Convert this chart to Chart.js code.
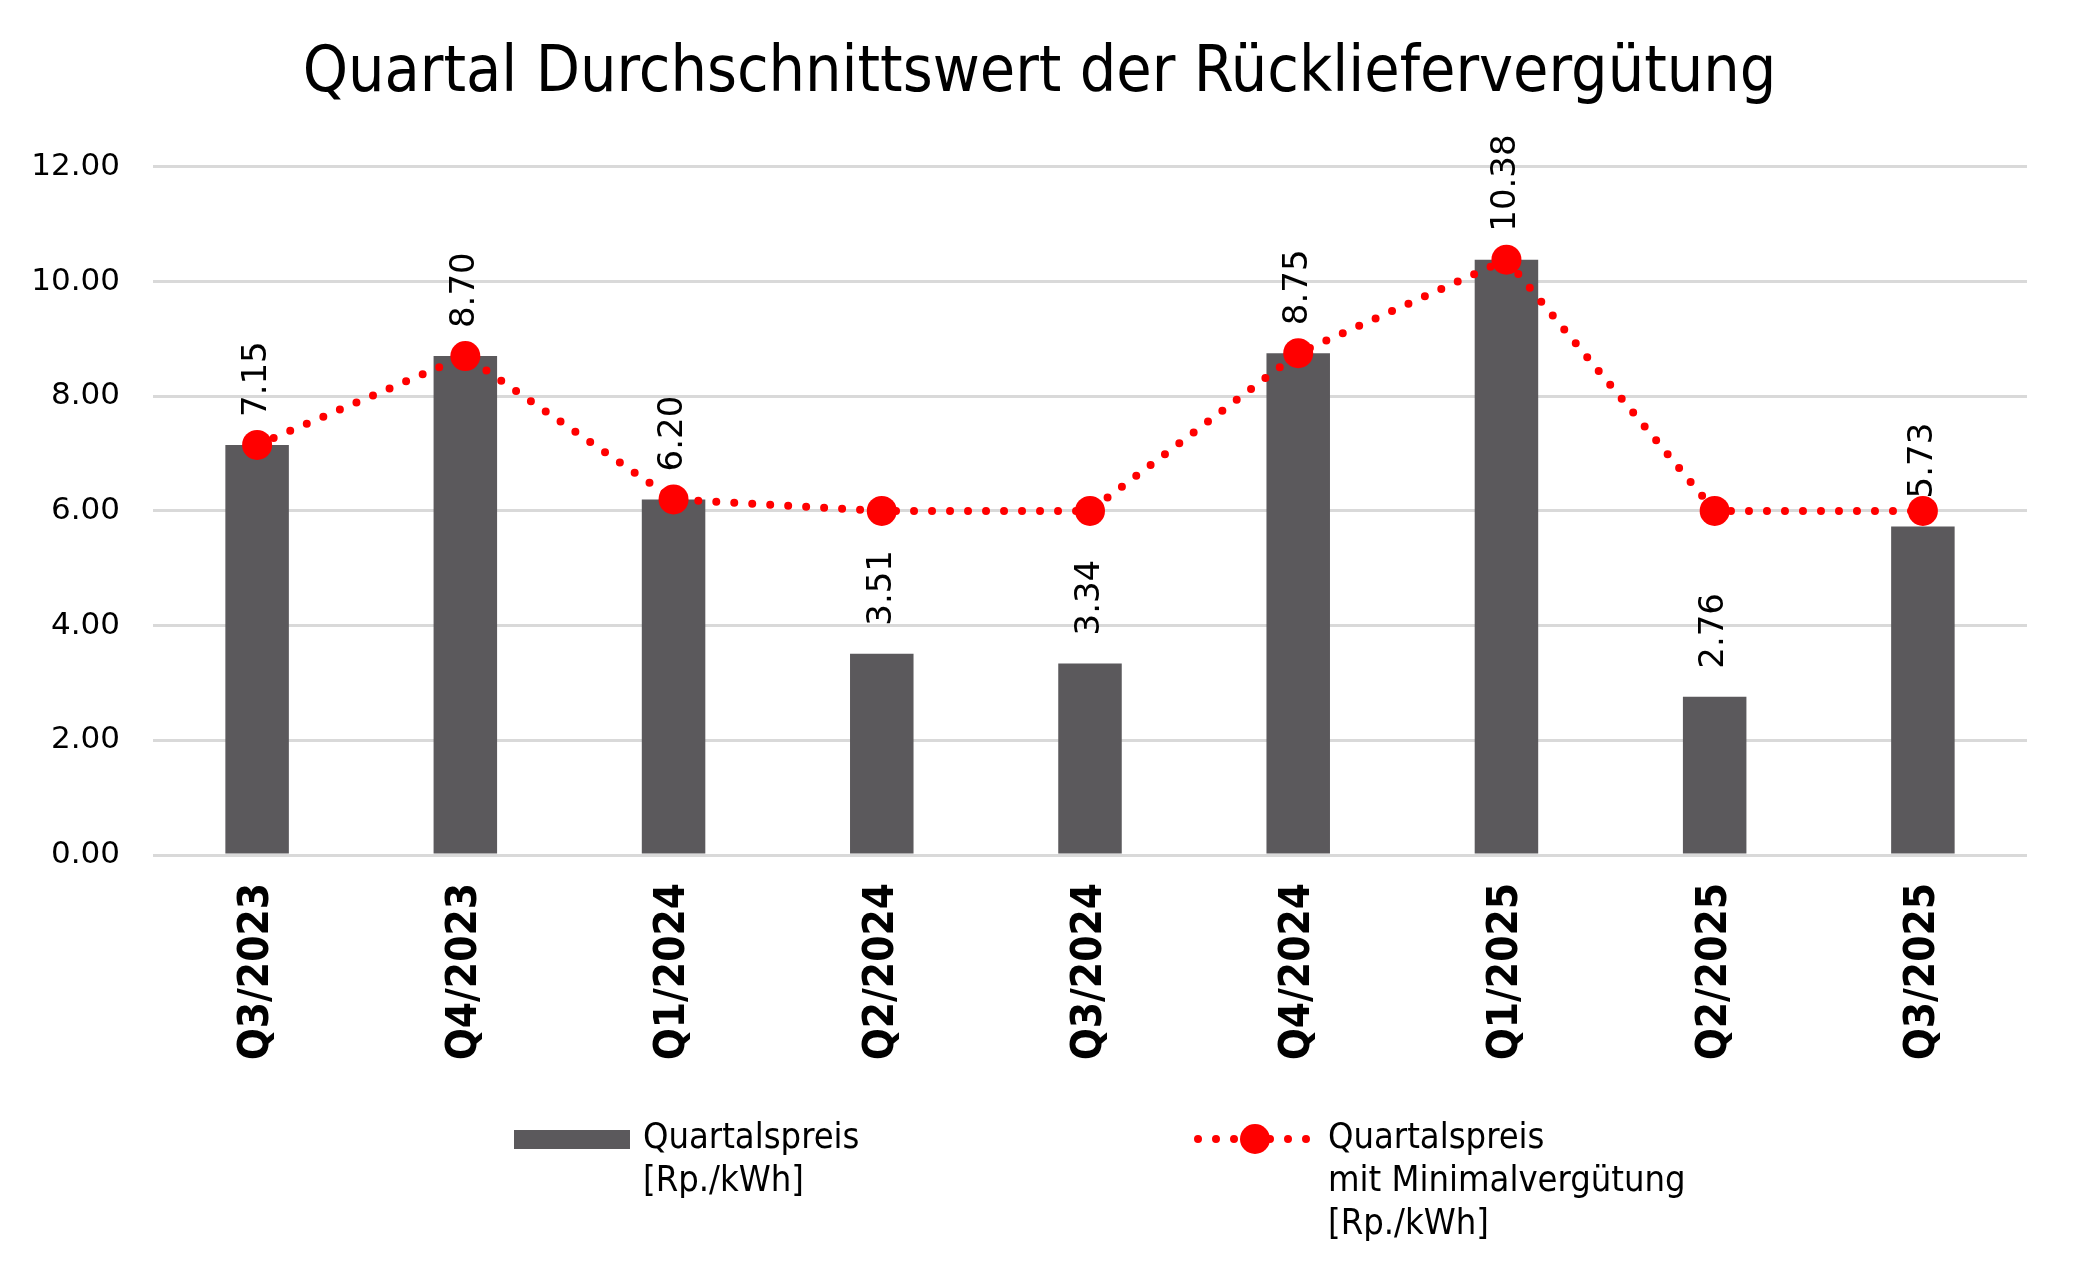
<!DOCTYPE html>
<html lang="de">
<head>
    <meta charset="UTF-8">
    <title>Quartal Durchschnittswert der Rückliefervergütung</title>
    <script src="https://cdn.jsdelivr.net/npm/chart.js"></script>
    <style>
        body {
            margin: 0;
            padding: 0;
            background: #fff;
        }
        .wrap {
            position: relative;
            width: 2079px;
            height: 1278px;
        }
        .legend {
            position: absolute;
            font-family: "Liberation Sans Narrow", "DejaVu Sans Condensed", sans-serif;
            font-size: 36px;
            line-height: 43px;
            color: #000;
        }
        .legend .txt {
            position: absolute;
            white-space: nowrap;
        }
    </style>
</head>
<body>
    <div class="wrap">
        <canvas id="chart" width="2079" height="1278"></canvas>
        <div class="legend" id="legend"></div>
    </div>

    <script>
        // data
        const quarters = ['Q3/2023', 'Q4/2023', 'Q1/2024', 'Q2/2024', 'Q3/2024', 'Q4/2024', 'Q1/2025', 'Q2/2025', 'Q3/2025'];
        const quarterPrice = [7.15, 8.70, 6.20, 3.51, 3.34, 8.75, 10.38, 2.76, 5.73];
        const priceWithMin = [7.15, 8.70, 6.20, 6.00, 6.00, 8.75, 10.38, 6.00, 6.00];
        const yTicks = [0, 2, 4, 6, 8, 10, 12];
        const barLabel = ['Quartalspreis', '[Rp./kWh]'];
        const lineLabel = ['Quartalspreis', 'mit Minimalvergütung', '[Rp./kWh]'];

        const barColor = '#5b595c';
        const lineColor = '#ff0000';

        // rotated value labels above the bars
        const valueLabels = {
            id: 'valueLabels',
            afterDatasetsDraw(chart) {
                const ctx = chart.ctx;
                const meta = chart.getDatasetMeta(0);
                ctx.save();
                ctx.font = '34px "DejaVu Sans"';
                ctx.fillStyle = '#000';
                ctx.textAlign = 'left';
                ctx.textBaseline = 'middle';
                meta.data.forEach((bar, i) => {
                    ctx.save();
                    ctx.translate(bar.x, bar.y - 28);
                    ctx.rotate(-Math.PI / 2);
                    ctx.fillText(quarterPrice[i].toFixed(2), 0, 0);
                    ctx.restore();
                });
                ctx.restore();
            }
        };

        const ctx = document.getElementById('chart').getContext('2d');
        const chart = new Chart(ctx, {
            type: 'bar',
            data: {
                labels: quarters,
                datasets: [
                    {
                        type: 'bar',
                        label: barLabel.join(' '),
                        data: quarterPrice,
                        backgroundColor: barColor,
                        barPercentage: 0.305,
                        categoryPercentage: 1,
                        order: 2
                    },
                    {
                        type: 'line',
                        label: lineLabel.join(' '),
                        data: priceWithMin,
                        borderColor: lineColor,
                        backgroundColor: lineColor,
                        borderWidth: 8,
                        borderDash: [0, 18],
                        borderCapStyle: 'round',
                        pointRadius: 15,
                        pointHoverRadius: 15,
                        pointBorderWidth: 0,
                        tension: 0,
                        fill: false,
                        order: 1
                    }
                ]
            },
            options: {
                responsive: false,
                animation: false,
                layout: { padding: 0 },
                plugins: {
                    legend: { display: false },
                    tooltip: { enabled: false },
                    title: {
                        display: true,
                        text: 'Quartal Durchschnittswert der Rückliefervergütung',
                        color: '#000',
                        font: { family: '"DejaVu Sans Condensed", sans-serif', size: 64, weight: 'normal' },
                        padding: { top: 36, bottom: 54 }
                    }
                },
                scales: {
                    x: {
                        grid: { display: false, drawTicks: false },
                        border: { display: false },
                        ticks: {
                            color: '#000',
                            minRotation: 90,
                            maxRotation: 90,
                            padding: 28,
                            font: { family: '"DejaVu Sans Condensed", "DejaVu Sans"', size: 42, weight: 'bold' }
                        },
                        afterFit: s => { s.height = 1278 - 855; }
                    },
                    y: {
                        min: 0,
                        max: 12,
                        afterBuildTicks: s => { s.ticks = yTicks.map(v => ({ value: v })); },
                        grid: { color: '#d9d9d9', lineWidth: 3, drawTicks: false },
                        border: { display: false },
                        ticks: {
                            color: '#000',
                            padding: 33,
                            font: { family: '"DejaVu Sans"', size: 31 },
                            callback: v => v.toFixed(2)
                        },
                        afterFit: s => { s.width = 153; }
                    },
                    // empty right margin so the title stays centred on the page
                    yRight: {
                        position: 'right',
                        grid: { display: false, drawTicks: false },
                        border: { display: false },
                        ticks: { display: false },
                        afterFit: s => { s.width = 52; }
                    }
                }
            },
            plugins: [valueLabels]
        });

        // legend with multi-line entries
        function buildLegend() {
            const lg = document.getElementById('legend');
            lg.style.left = '0px';
            lg.style.top = '0px';
            lg.innerHTML =
                '<div style="position:absolute;left:514px;top:1130px;width:116px;height:19px;background:' + barColor + '"></div>' +
                '<div class="txt" style="left:643px;top:1114px">' + barLabel.join('<br>') + '</div>' +
                '<svg style="position:absolute;left:1190px;top:1121px" width="135" height="36">' +
                '<line x1="8" y1="18" x2="130" y2="18" stroke="' + lineColor + '" stroke-width="8" stroke-linecap="round" stroke-dasharray="0 18"/>' +
                '<circle cx="65" cy="18" r="15" fill="' + lineColor + '"/></svg>' +
                '<div class="txt" style="left:1328px;top:1114px">' + lineLabel.join('<br>') + '</div>';
        }
        buildLegend();
    </script>
</body>
</html>
